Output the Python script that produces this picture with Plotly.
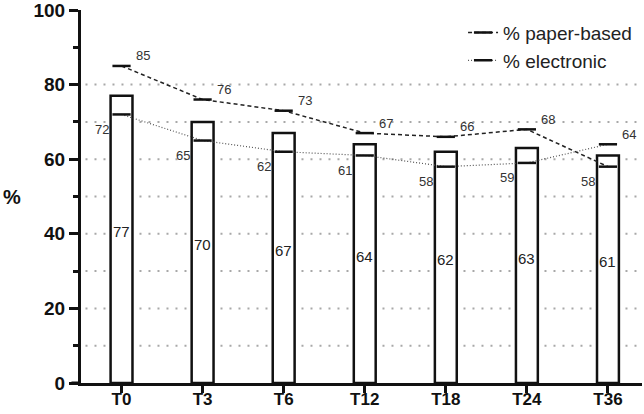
import plotly.graph_objects as go

# timepoints and percentages
timepoints = ['T0', 'T3', 'T6', 'T12', 'T18', 'T24', 'T36']
bar_values = [77, 70, 67, 64, 62, 63, 61]
paper_based = [85, 76, 73, 67, 66, 68, 58]
electronic = [72, 65, 62, 61, 58, 59, 64]

FONT = 'Liberation Sans, Arial, sans-serif'
INK = '#111111'

fig = go.Figure()

# white bars with black outline
fig.add_trace(go.Bar(
    x=timepoints, y=bar_values, width=0.27,
    marker=dict(color='white', line=dict(color=INK, width=2.5)),
    showlegend=False, hoverinfo='skip'))

# the two lines with short horizontal markers
fig.add_trace(go.Scatter(
    x=timepoints, y=paper_based, mode='lines+markers', name='% paper-based',
    line=dict(color='#222222', width=1.5, dash='4px,3px'),
    marker=dict(symbol='line-ew', size=13, line=dict(color=INK, width=2.5))))
fig.add_trace(go.Scatter(
    x=timepoints, y=electronic, mode='lines+markers', name='% electronic',
    line=dict(color='#555555', width=1.2, dash='1px,2px'),
    marker=dict(symbol='line-ew', size=13, line=dict(color=INK, width=2.5))))

annotations = []
# bar value labels, around mid-height inside the bars
for t, v in zip(timepoints, bar_values):
    annotations.append(dict(x=t, y=v / 2 + 2, text=str(v), showarrow=False,
                            font=dict(size=15, color='#222222', family=FONT)))
# line labels: higher value top-right, lower value bottom-left
for t, p, e in zip(timepoints, paper_based, electronic):
    hi, lo = max(p, e), min(p, e)
    annotations.append(dict(x=t, y=hi, text=str(hi), showarrow=False,
                            xshift=21, yshift=10,
                            font=dict(size=13, color='#333333', family=FONT)))
    annotations.append(dict(x=t, y=lo, text=str(lo), showarrow=False,
                            xshift=-20, yshift=-15,
                            font=dict(size=13, color='#333333', family=FONT)))
# horizontal "%" axis title
annotations.append(dict(x=-0.142, y=0.5, xref='paper', yref='paper', text='%',
                        showarrow=False, xanchor='left',
                        font=dict(size=20, color=INK, family=FONT, weight='bold')))

# dotted grid lines only from 10 to 80
shapes = [dict(type='line', xref='paper', yref='y', x0=0.008, x1=1, y0=g, y1=g,
               layer='below', line=dict(color='#a8a8a8', width=2, dash='2px,7px'))
          for g in range(10, 90, 10)]
# x axis line sticks out a little to the left of the y axis
shapes.append(dict(type='line', xref='paper', yref='y', x0=-0.017, x1=0, y0=0, y1=0,
                   line=dict(color=INK, width=3)))

fig.update_layout(
    width=644, height=414,
    margin=dict(l=81, r=2, t=10, b=31),
    plot_bgcolor='white', paper_bgcolor='white',
    font=dict(family=FONT, color=INK),
    annotations=annotations, shapes=shapes,
    legend=dict(x=0.681, y=0.99, xanchor='left', yanchor='top',
                bgcolor='rgba(0,0,0,0)', font=dict(size=19, color='#222222', family=FONT),
                tracegroupgap=2),
    xaxis=dict(range=[-0.5, 6.42], showline=True, linecolor=INK, linewidth=3,
               ticks='outside', ticklen=7, tickwidth=3, tickcolor=INK,
               tickfont=dict(size=17, family=FONT, weight='bold', color=INK),
               ticklabelstandoff=-8, automargin=False, ticklabeloverflow='allow',
               showgrid=False, zeroline=False),
    yaxis=dict(range=[0, 100], showline=True, linecolor=INK, linewidth=3,
               tickvals=[0, 20, 40, 60, 80, 100], ticks='outside', ticklen=9,
               tickwidth=3, tickcolor=INK,
               tickfont=dict(size=19, family=FONT, weight='bold', color=INK),
               automargin=False, ticklabeloverflow='allow',
               minor=dict(tickvals=[10, 30, 50, 70, 90], ticks='outside', ticklen=5,
                          tickwidth=3, tickcolor=INK, showgrid=False),
               showgrid=False, zeroline=False),
)

# drop the default page margin so the figure fills the window
fig.write_html("out.html", config={'displayModeBar': False},
               post_script="document.body.style.margin='0';")
